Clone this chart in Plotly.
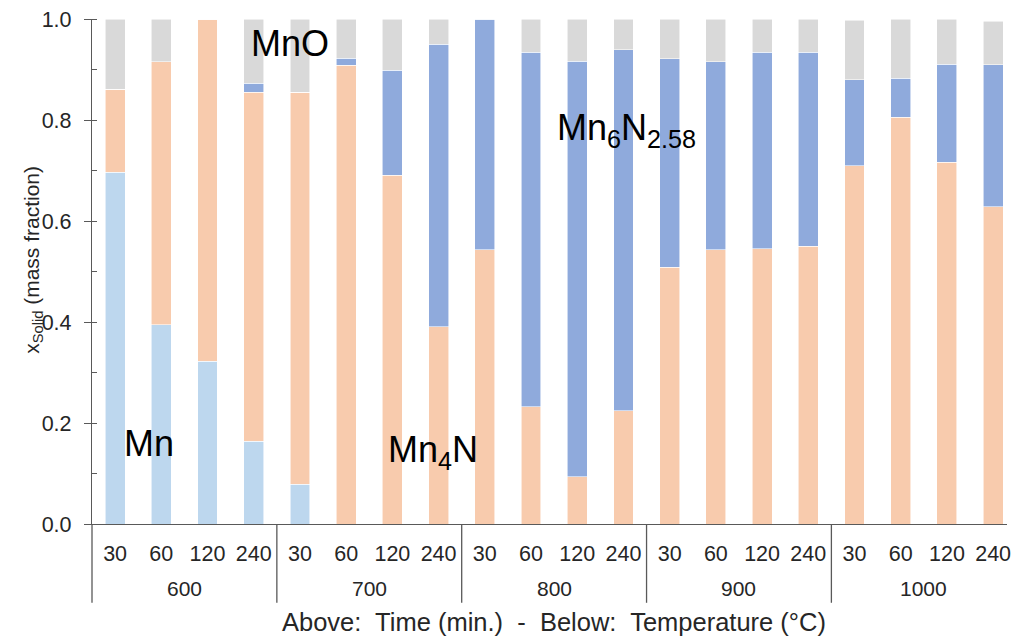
import plotly.graph_objects as go

# Sample grid: reaction temperature (°C) groups, each with four hold times (min.)
temperatures = ["600", "700", "800", "900", "1000"]
times = ["30", "60", "120", "240"]

# Mass fractions of each solid phase, ordered 600/30 ... 1000/240
mn = [0.697, 0.395, 0.322, 0.164,
      0.079, 0.0, 0.0, 0.0,
      0.0, 0.0, 0.0, 0.0,
      0.0, 0.0, 0.0, 0.0,
      0.0, 0.0, 0.0, 0.0]
mn4n = [0.164, 0.520, 0.678, 0.691,
        0.776, 0.908, 0.691, 0.391,
        0.543, 0.232, 0.094, 0.224,
        0.508, 0.543, 0.545, 0.550,
        0.709, 0.805, 0.716, 0.628]
mn6n258 = [0.0, 0.0, 0.0, 0.018,
           0.0, 0.014, 0.208, 0.559,
           0.457, 0.702, 0.822, 0.715,
           0.413, 0.372, 0.389, 0.384,
           0.171, 0.078, 0.194, 0.281]
mno = [0.139, 0.085, 0.0, 0.127,
       0.145, 0.078, 0.101, 0.050,
       0.0, 0.066, 0.084, 0.061,
       0.079, 0.085, 0.066, 0.066,
       0.118, 0.117, 0.090, 0.087]

phases = [
    ("Mn", mn, "#BDD7EE"),
    ("Mn4N", mn4n, "#F8CBAD"),
    ("Mn6N2.58", mn6n258, "#8FAADC"),
    ("MnO", mno, "#D9D9D9"),
]

n_t = len(times)
positions = list(range(len(temperatures) * n_t))
time_labels = [times[i % n_t] for i in positions]

FONT = "Liberation Sans, Arial, sans-serif"
AXIS_COLOR = "#595959"

fig = go.Figure()
for name, values, color in phases:
    fig.add_trace(go.Bar(
        x=positions, y=values, name=name, width=0.43,
        marker=dict(color=color, line=dict(color="rgba(255,255,255,0.7)", width=0.8)),
    ))

# Group labels and dividers for the temperature level of the x axis
annotations = []
shapes = []
for g, temp in enumerate(temperatures):
    center = g * n_t + (n_t - 1) / 2
    annotations.append(dict(
        x=center, y=-0.1287, xref="x", yref="paper", text=temp, showarrow=False,
        font=dict(family=FONT, size=21, color="#262626"), yanchor="middle",
    ))
for g in range(1, len(temperatures)):
    xd = g * n_t - 0.5
    shapes.append(dict(type="line", xref="x", yref="paper", x0=xd, x1=xd,
                       y0=0, y1=-0.156, line=dict(color=AXIS_COLOR, width=1.3)))
shapes.append(dict(type="line", xref="paper", yref="paper", x0=0, x1=0,
                   y0=0, y1=-0.156, line=dict(color=AXIS_COLOR, width=1.3)))

# Phase labels inside the plot
phase_text = [
    ("MnO", 3.79, 0.951),
    ("Mn", 0.73, 0.159),
    ("Mn<sub>4</sub>N", 6.88, 0.143),
    ("Mn<sub>6</sub>N<sub>2.58</sub>", 11.07, 0.780),
]
for txt, xp, yp in phase_text:
    annotations.append(dict(
        x=xp, y=yp, xref="x", yref="y", text=txt, showarrow=False,
        font=dict(family=FONT, size=36, color="black"),
        xanchor="center", yanchor="middle",
    ))

# Axis titles
annotations.append(dict(
    x=-0.064, y=0.524, xref="paper", yref="paper",
    text="x<sub>Solid</sub> (mass fraction)", showarrow=False, textangle=-90,
    font=dict(family=FONT, size=21, color="#262626"), xanchor="center", yanchor="middle",
))
annotations.append(dict(
    x=0.505, y=-0.194, xref="paper", yref="paper",
    text="Above:  Time (min.)  -  Below:  Temperature (°C)", showarrow=False,
    font=dict(family=FONT, size=25.5, color="#262626"), xanchor="center", yanchor="middle",
))

fig.update_layout(
    barmode="stack",
    width=1011, height=637,
    margin=dict(l=92, r=0, t=19, b=113),
    paper_bgcolor="white", plot_bgcolor="white",
    showlegend=False,
    font=dict(family=FONT, color="#262626"),
    annotations=annotations,
    shapes=shapes,
)
fig.update_xaxes(
    range=[-0.5, 19.3],
    tickmode="array", tickvals=positions, ticktext=time_labels,
    ticks="", showgrid=False, zeroline=False,
    showline=True, linecolor=AXIS_COLOR, linewidth=1.3,
    tickfont=dict(family=FONT, size=21.5, color="#262626"),
    ticklabelstandoff=10, ticklabeloverflow="allow",
)
fig.update_yaxes(
    range=[0, 1.0], dtick=0.2, tickformat=".1f",
    ticks="outside", ticklen=7, tickcolor=AXIS_COLOR, tickwidth=1.3,
    minor=dict(dtick=0.1, ticks="inside", ticklen=5, tickcolor=AXIS_COLOR, tickwidth=1.3, showgrid=False),
    showgrid=False, zeroline=False,
    showline=True, linecolor=AXIS_COLOR, linewidth=1.3,
    tickfont=dict(family=FONT, size=21.5, color="#262626"),
    ticklabelstandoff=8,
)

fig.write_html("out.html")
